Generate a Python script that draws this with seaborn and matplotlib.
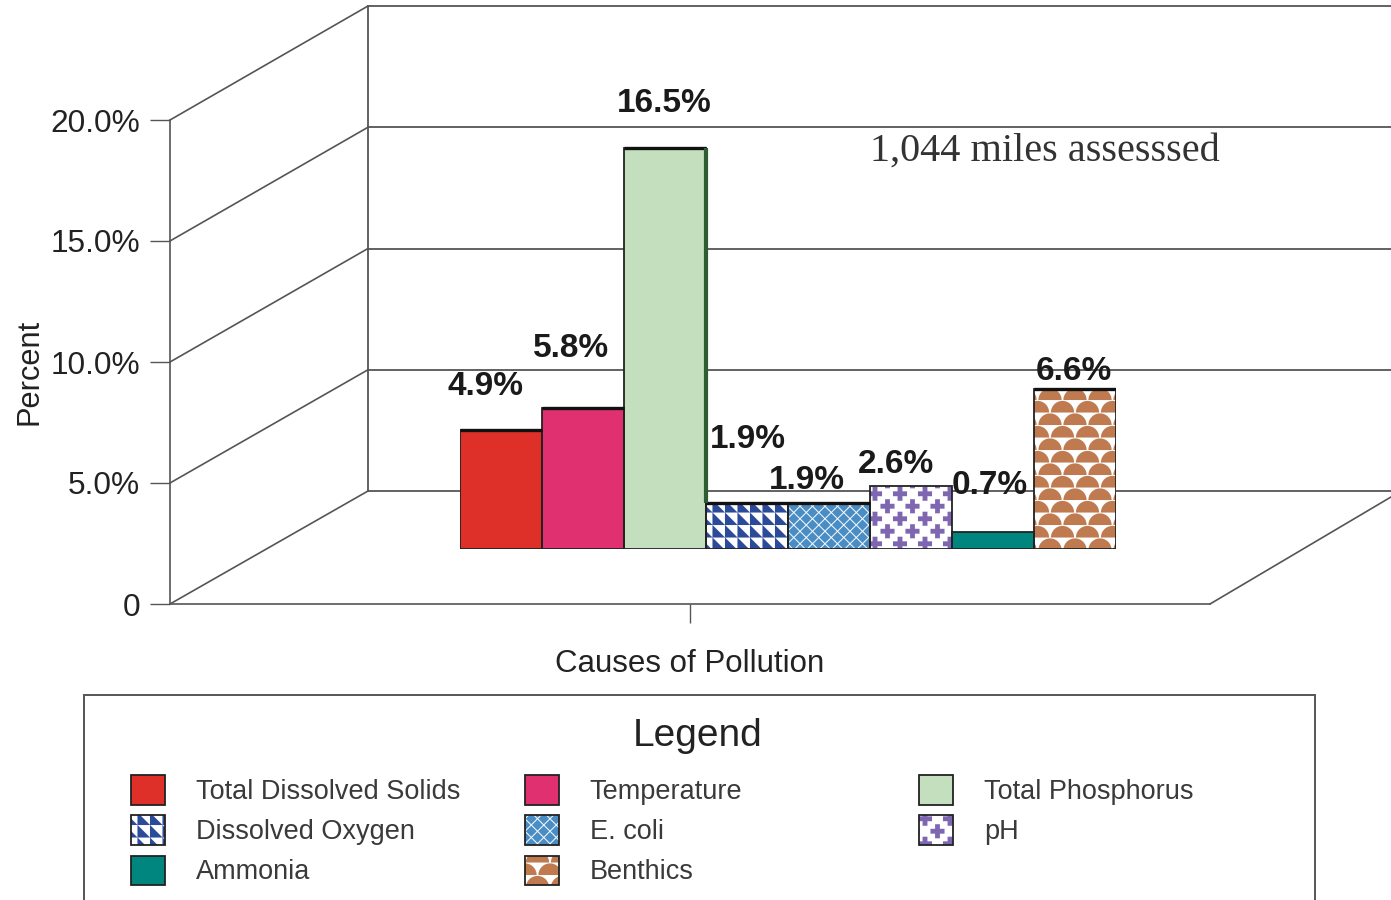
"""Balkendiagramm der Verschmutzungsursachen mit angedeuteter 3D-Wand."""
import warnings
import numpy as np
import pandas as pd
import matplotlib
matplotlib.use("Agg")
import matplotlib.pyplot as plt
import matplotlib.hatch as mhatch
from matplotlib.lines import Line2D
from matplotlib.patches import Patch, Rectangle
from matplotlib.transforms import IdentityTransform
import seaborn as sns

warnings.filterwarnings("ignore")

# Daten
causes = ["Total Dissolved Solids", "Temperature", "Total Phosphorus", "Dissolved Oxygen",
          "E. coli", "pH", "Ammonia", "Benthics"]
percent = [4.9, 5.8, 16.5, 1.9, 1.9, 2.6, 0.7, 6.6]
value_labels = ["4.9%", "5.8%", "16.5%", "1.9%", "1.9%", "2.6%", "0.7%", "6.6%"]
y_ticks = [0, 5, 10, 15, 20]
y_tick_labels = ["0", "5.0%", "10.0%", "15.0%", "20.0%"]

# Legende, spaltenweise
legend_columns = [
    ["Total Dissolved Solids", "Dissolved Oxygen", "Ammonia"],
    ["Temperature", "E. coli", "Benthics"],
    ["Total Phosphorus", "pH"],
]

# Stil pro Ursache: Fläche, Musterfarbe, Muster
face_colors = {"Total Dissolved Solids": "#de3029", "Temperature": "#e0306f", "Total Phosphorus": "#d2e9cd",
               "Dissolved Oxygen": "#ffffff", "E. coli": "#ffffff", "pH": "#ffffff",
               "Ammonia": "#00857f", "Benthics": "#ffffff"}
hatch_colors = {"Total Phosphorus": "#a3cb9e", "Dissolved Oxygen": "#2c4a9a", "E. coli": "#4a8cc4",
                "pH": "#7f66b0", "Benthics": "#bf7a50"}
hatches = {"Total Phosphorus": "d", "Dissolved Oxygen": "t", "E. coli": "k", "pH": "p", "Benthics": "b"}

# Versatz der Wertebeschriftung in Pixeln
label_offsets = [(-16, 43), (-12, 60), (-1, 45), (1, 63), (-22, 22), (-15, 21), (-3, 46), (-1, 17)]
heavy_top = [True, True, True, True, True, False, False, True]

W, H = 1391, 900
DARK = "#222222"
LINE = "#555555"


class TileHatch(mhatch.HatchPatternBase):
    """Gefüllte Formen als Muster, eine Kachel ist 1x1."""

    def __init__(self, hatch, density):
        self.polys = tile_polys(hatch[0]) if hatch and hatch[0] in "dtkpb" else []
        self.num_vertices = sum(len(p) + 1 for p in self.polys)

    def set_vertices_and_codes(self, vertices, codes):
        pos = 0
        for p in self.polys:
            n = len(p) + 1
            vertices[pos:pos + n - 1] = p
            vertices[pos + n - 1] = p[0]
            codes[pos] = 1
            codes[pos + 1:pos + n - 1] = 2
            codes[pos + n - 1] = 79
            pos += n


def tile_polys(kind):
    polys = []
    if kind == "d":
        # feine Punkte
        step = 1 / 50
        s = step * 0.25
        for i in range(50):
            for j in range(50):
                cx, cy = (i + 0.5) * step, (j + 0.5) * step
                polys.append(np.array([[cx - s, cy - s], [cx + s, cy - s], [cx + s, cy + s], [cx - s, cy + s]]))
    elif kind == "t":
        step = 1 / 8
        for i in range(8):
            for j in range(8):
                x, y = i * step, j * step
                polys.append(np.array([[x, y], [x + step, y], [x, y + step]]))
    elif kind == "k":
        step = 1 / 8
        r = step * 0.44
        for j in range(-1, 17):
            shift = step / 2 if j % 2 else 0
            for i in range(-1, 10):
                cx, cy = i * step + shift, j * step / 2
                polys.append(np.array([[cx - r, cy], [cx, cy - r], [cx + r, cy], [cx, cy + r]]))
    elif kind == "p":
        step = 1 / 4
        a, b = 0.07, 0.024
        for j in range(-1, 9):
            shift = step / 2 if j % 2 else 0
            for i in range(-1, 6):
                cx, cy = i * step + shift, j * step / 2 + step / 4
                polys.append(np.array([[cx - b, cy - a], [cx + b, cy - a], [cx + b, cy - b], [cx + a, cy - b],
                                       [cx + a, cy + b], [cx + b, cy + b], [cx + b, cy + a], [cx - b, cy + a],
                                       [cx - b, cy + b], [cx - a, cy + b], [cx - a, cy - b], [cx - b, cy - b]]))
    elif kind == "b":
        step = 1 / 4
        r = 0.116
        t = np.linspace(0, np.pi, 17)
        for j in range(-1, 9):
            shift = step / 2 if j % 2 else 0
            for i in range(-1, 6):
                cx, cy = i * step + shift, j * step / 2
                polys.append(np.column_stack([cx + r * np.cos(t), cy + r * np.sin(t)]))
    return polys


mhatch._hatch_types.append(TileHatch)


def px_axes(fig, left, top, right, bottom):
    """Achsen aus Pixelkoordinaten (Ursprung oben links)."""
    return fig.add_axes([left / W, 1 - bottom / H, (right - left) / W, (bottom - top) / H])


def hatch_handle(name):
    base = Patch(facecolor=face_colors[name], edgecolor=hatch_colors.get(name, face_colors[name]),
                 hatch=hatches.get(name), linewidth=0)
    outline = Patch(fill=False, edgecolor=DARK, linewidth=1.3)
    return (base, outline)


def main():
    sns.set_theme(style="white")
    plt.rcParams["font.family"] = ["Liberation Sans", "DejaVu Sans"]
    plt.rcParams["hatch.linewidth"] = 0.05

    fig = plt.figure(figsize=(W / 100, H / 100), dpi=100, facecolor="white")

    # Rückwand mit Gitterlinien
    back = px_axes(fig, 368, 6, 1391, 491)
    back.set_xlim(0, 1)
    back.set_ylim(0, 20)
    back.set_yticks(y_ticks)
    back.set_xticks([])
    back.tick_params(left=False, labelleft=False)
    back.grid(axis="y", color=LINE, linewidth=1.3)
    for name, spine in back.spines.items():
        spine.set_visible(name == "left")
        spine.set_color(LINE)
        spine.set_linewidth(1.3)
    for line in back.get_ygridlines():
        line.set_clip_on(False)

    # Vordere Achse
    ax = px_axes(fig, 170, 120, 1210, 604)
    ax.patch.set_alpha(0)
    ax.set_xlim(0, 1)
    ax.set_ylim(0, 20)
    ax.set_yticks(y_ticks)
    ax.set_yticklabels(y_tick_labels, fontsize=22.8, color=DARK)
    ax.set_xticks([0.5])
    ax.set_xticklabels([""])
    ax.tick_params(axis="y", left=True, length=14.4, width=1, color=LINE, pad=7)
    ax.tick_params(axis="x", bottom=True, length=13.5, width=1, color=LINE, pad=0)
    for name, spine in ax.spines.items():
        spine.set_visible(name in ("left", "bottom"))
        spine.set_color(LINE)
        spine.set_linewidth(1.2)
    ax.set_ylabel("Percent", fontsize=22.2, color=DARK)
    ax.yaxis.label.set_verticalalignment("center")
    ax.yaxis.set_label_coords((30 - 170) / 1040, (604 - 372) / 484)
    ax.set_xlabel("Causes of Pollution", fontsize=22.5, color=DARK)
    ax.xaxis.set_label_coords(0.5, (604 - 664) / 484, transform=ax.transAxes)
    ax.xaxis.label.set_verticalalignment("center")

    # Diagonalen zwischen Vorderkante und Rückwand
    for v in y_ticks:
        p0 = ax.transData.transform((0, v))
        p1 = back.transData.transform((0, v))
        fig.add_artist(Line2D([p0[0], p1[0]], [p0[1], p1[1]], transform=IdentityTransform(),
                              color=LINE, linewidth=1.2))
    p0 = ax.transData.transform((1, 0))
    p1 = back.transData.transform((1, 0))
    fig.add_artist(Line2D([p0[0], p1[0]], [p0[1], p1[1] - 6], transform=IdentityTransform(),
                          color=LINE, linewidth=1.2))

    # Balken
    df = pd.DataFrame({"cause": causes, "percent": percent})
    bars_ax = px_axes(fig, 460, 63, 1116, 549)
    bars_ax.patch.set_alpha(0)
    sns.barplot(data=df, x="cause", y="percent", hue="cause", palette=face_colors, order=causes,
                width=1, legend=False, saturation=1, ax=bars_ax)
    bar_patches = list(bars_ax.patches)
    for patch, name in zip(bar_patches, causes):
        patch.set_edgecolor(hatch_colors.get(name, face_colors[name]))
        patch.set_linewidth(0)
        if name in hatches:
            patch.set_hatch(hatches[name])
    sns.barplot(data=df, x="cause", y="percent", order=causes, width=1, fill=False, color=DARK,
                linewidth=1.3, saturation=1, ax=bars_ax)
    bars_ax.set_xlim(-0.5, len(causes) - 0.5)
    bars_ax.set_ylim(0, 20)
    bars_ax.axis("off")

    # Dunkle Oberkante und Wertebeschriftung
    for i, (v, text, off) in enumerate(zip(percent, value_labels, label_offsets)):
        if heavy_top[i]:
            bars_ax.hlines(v, i - 0.5, i + 0.5, color="#111111", linewidth=2.4)
        bars_ax.annotate(text, (i, v), xytext=off, textcoords="offset pixels", ha="center", va="center",
                         fontsize=24, fontweight="bold", color="#1a1a1a", annotation_clip=False)
    # Schatten rechts am höchsten Balken
    tallest = int(np.argmax(percent))
    bars_ax.vlines(tallest + 0.5, 1.9, percent[tallest], color="#2f5d33", linewidth=3)

    fig.text(1045 / W, 1 - 151 / H, "1,044 miles assesssed", family="Liberation Serif", fontsize=29,
             ha="center", va="center", color="#333333")

    # Legende
    fig.add_artist(Rectangle((84 / W, 1 - 906 / H), (1315 - 84) / W, (906 - 695) / H,
                             transform=fig.transFigure, fill=False, edgecolor=LINE, linewidth=1.4))
    fig.text(698 / W, 1 - 736 / H, "Legend", fontsize=28, ha="center", va="center", color=DARK)
    legend_fs = 19.5
    for x_left, names in zip([131, 525, 919], legend_columns):
        leg = fig.legend([hatch_handle(n) for n in names], names, loc="upper left",
                         bbox_to_anchor=(x_left / W, 1 - 775 / H), borderaxespad=0, borderpad=0,
                         frameon=False, fontsize=legend_fs, handlelength=1.27, handleheight=1.3,
                         handletextpad=1.12, labelspacing=0.385, labelcolor="#3a3a3a")
        leg.set_zorder(5)

    fig.savefig("out.png", dpi=100)


if __name__ == "__main__":
    main()
